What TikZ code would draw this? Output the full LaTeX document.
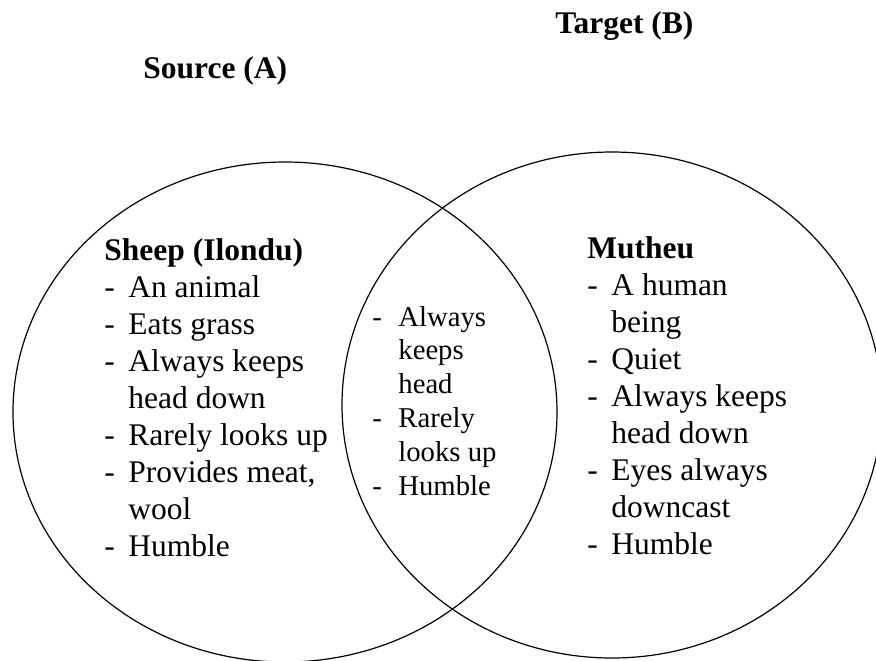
\documentclass[tikz,border=0pt]{standalone}
\usepackage{fontspec}
\setmainfont{Liberation Serif}
\usetikzlibrary{shapes.geometric}
\newcommand{\dashitem}[2][12pt]{\makebox[#1][l]{-}#2}
\newcommand{\wrapline}[2][12pt]{\hspace*{#1}#2}
\tikzset{
  setshape/.style={draw, ellipse, line width=0.6pt, inner sep=0pt},
  listtext/.style={font=\fontsize{15.75}{18.5}\selectfont, align=left,
                   anchor=base west, inner sep=0pt},
  midtext/.style={font=\fontsize{14.35}{16.9}\selectfont, align=left,
                  anchor=base west, inner sep=0pt},
  headtext/.style={font=\fontsize{15.75}{18.5}\selectfont\bfseries,
                   anchor=base west, inner sep=0pt},
}
\begin{document}
\begin{tikzpicture}[x=0.5pt, y=-0.5pt]
  \useasboundingbox (0,0) rectangle (876,660);

  % ---- the two sets ----
  \node[setshape, minimum width=272pt, minimum height=250pt]
    (setA) at (285,412) {};
  \node[setshape, minimum width=270pt, minimum height=253pt]
    (setB) at (612,405) {};

  % ---- titles ----
  \node[headtext] (targetB) at (555,33) {Target (B)};
  \node[headtext] (sourceA) at (143,78) {Source (A)};

  % ---- left: source (placed by its last line) ----
  \node[listtext] (sheep) at (104,556) {%
    \textbf{Sheep (Ilondu)}\\
    \dashitem{An animal}\\
    \dashitem{Eats grass}\\
    \dashitem{Always keeps}\\
    \wrapline{head down}\\
    \dashitem{Rarely looks up}\\
    \dashitem{Provides meat,}\\
    \wrapline{wool}\\
    \dashitem{Humble}};

  % ---- middle: shared ----
  \node[midtext] (shared) at (372,495) {%
    \dashitem[13pt]{Always}\\
    \wrapline[13pt]{keeps}\\
    \wrapline[13pt]{head}\\
    \dashitem[13pt]{Rarely}\\
    \wrapline[13pt]{looks up}\\
    \dashitem[13pt]{Humble}};

  % ---- right: target ----
  \node[listtext] (mutheu) at (587,554) {%
    \textbf{Mutheu}\\
    \dashitem{A human}\\
    \wrapline{being}\\
    \dashitem{Quiet}\\
    \dashitem{Always keeps}\\
    \wrapline{head down}\\
    \dashitem{Eyes always}\\
    \wrapline{downcast}\\
    \dashitem{Humble}};

\end{tikzpicture}
\end{document}
